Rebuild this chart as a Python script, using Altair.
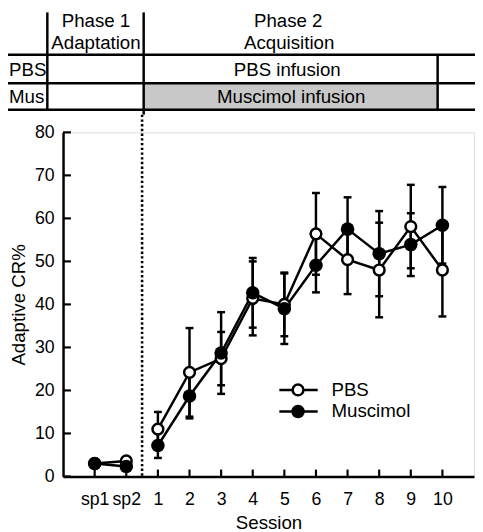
import json
import altair as alt
import pandas as pd

# ---------------- data ----------------
sessions = ["sp1", "sp2", "1", "2", "3", "4", "5", "6", "7", "8", "9", "10"]
session_index = [-1, 0, 1, 2, 3, 4, 5, 6, 7, 8, 9, 10]
phase = ["Phase 1", "Phase 1"] + ["Phase 2"] * 10
series = ["PBS", "Muscimol"]
pbs_mean = [3.0, 3.6, 11.0, 24.2, 27.4, 41.4, 40.0, 56.4, 50.4, 48.0, 58.1, 48.0]
pbs_sem = [0.0, 0.0, 4.0, 10.3, 6.2, 8.6, 7.4, 9.5, 8.0, 11.0, 9.7, 10.8]
mus_mean = [3.0, 2.3, 7.2, 18.7, 28.7, 42.7, 39.0, 49.1, 57.5, 51.8, 53.9, 58.4]
mus_sem = [0.0, 0.0, 2.9, 5.2, 9.5, 8.1, 8.2, 6.3, 7.4, 9.9, 7.3, 8.9]
y_ticks = [0, 10, 20, 30, 40, 50, 60, 70, 80]
phase_titles = [["Phase 1", "Adaptation"], ["Phase 2", "Acquisition"]]
row_labels = ["PBS", "Mus"]
row_contents = ["PBS infusion", "Muscimol infusion"]

FONT = "Liberation Sans"
LW = 2.5
FS = 19


def frame(means, sems, name):
    return pd.DataFrame({
        "idx": session_index, "label": sessions, "phase": phase,
        "mean": means, "lo": [m - s for m, s in zip(means, sems)],
        "hi": [m + s for m, s in zip(means, sems)], "sem": sems,
        "group": name,
    })


pbs = frame(pbs_mean, pbs_sem, series[0])
mus = frame(mus_mean, mus_sem, series[1])
pbs_err = pbs[pbs["sem"] > 0]
mus_err = mus[mus["sem"] > 0]

label_expr = json.dumps(sessions) + "[datum.value + 1]"
XS = alt.Scale(domain=[-2, 11], nice=False, zero=False)
YS = alt.Scale(domain=[0, 80], nice=False)
X_AX = alt.Axis(values=session_index, labelExpr=label_expr, ticks=False, grid=False,
                domainColor="black", domainWidth=LW, labelFontSize=18, labelColor="black",
                labelPadding=15, title="Session", titleFontSize=FS, titleFontWeight="normal",
                titleColor="black", titlePadding=5, labelFont=FONT, titleFont=FONT)
Y_AX = alt.Axis(values=y_ticks, ticks=False, grid=False, domainColor="black", domainWidth=LW,
                labelFontSize=18, labelColor="black", labelPadding=9, title="Adaptive CR%",
                titleFontSize=FS, titleFontWeight="normal", titleColor="black", titlePadding=6,
                labelFont=FONT, titleFont=FONT)

X = alt.X("idx:Q", scale=XS, axis=X_AX)
one = pd.DataFrame({"k": [0]})

layers = []

# ---------- header table ----------
layers.append(alt.Chart(one).mark_rect(fill="#c8c8c8").encode(
    x=alt.value(82), x2=alt.value(381), y=alt.value(-50), y2=alt.value(-23)))
for yy in [-79, -50, -23]:
    layers.append(alt.Chart(one).mark_rule(color="black", strokeWidth=LW).encode(
        x=alt.value(-56), x2=alt.value(419), y=alt.value(yy)))
for xx, y1, y2 in [(-16, -122, -23), (82, -122, -18), (381, -79, -23)]:
    layers.append(alt.Chart(one).mark_rule(color="black", strokeWidth=LW).encode(
        x=alt.value(xx), y=alt.value(y1), y2=alt.value(y2)))


def txt(s, x, y, align="center"):
    return alt.Chart(pd.DataFrame({"t": [s]})).mark_text(
        font=FONT, fontSize=FS, color="black", align=align, baseline="alphabetic").encode(
        text="t:N", x=alt.value(x), y=alt.value(y))


layers += [
    txt(phase_titles[0][0], 33.5, -107), txt(phase_titles[0][1], 33.5, -85),
    txt(phase_titles[1][0], 229, -107), txt(phase_titles[1][1], 230, -85),
    txt(row_labels[0], -55, -57, "left"), txt(row_labels[1], -55, -30, "left"),
    txt(row_contents[0], 228, -57), txt(row_contents[1], 232, -30),
]

# dotted phase divider
layers.append(alt.Chart(one).mark_rule(color="black", strokeWidth=2.6, strokeDash=[2.4, 2.4]).encode(
    x=alt.datum(0.5, type="quantitative", scale=XS, axis=X_AX), y=alt.value(-18), y2=alt.value(350)))

# inward ticks
layers.append(alt.Chart(pd.DataFrame({"v": y_ticks})).mark_rule(color="black", strokeWidth=2.2).encode(
    y=alt.Y("v:Q", scale=YS, axis=Y_AX), x=alt.value(0), x2=alt.value(8)))
layers.append(alt.Chart(pd.DataFrame({"idx": session_index})).mark_rule(color="black", strokeWidth=2.2).encode(
    x=X, y=alt.value(350), y2=alt.value(343)))

# ---------- data marks ----------
for err in [pbs_err, mus_err]:
    layers.append(alt.Chart(err).mark_rule(color="black", strokeWidth=LW).encode(
        x=X, y=alt.Y("lo:Q", scale=YS, axis=Y_AX), y2="hi:Q"))
    for f in ["lo", "hi"]:
        layers.append(alt.Chart(err).mark_tick(color="black", orient="horizontal", size=8,
                                               thickness=2.5, opacity=1).encode(
            x=X, y=alt.Y(f + ":Q", scale=YS, axis=Y_AX)))

for d in [pbs, mus]:
    layers.append(alt.Chart(d).mark_line(color="black", strokeWidth=LW).encode(
        x=X, y=alt.Y("mean:Q", scale=YS, axis=Y_AX), detail="phase:N"))

layers.append(alt.Chart(pbs).mark_point(shape="circle", filled=True, fill="white", stroke="black",
                                        strokeWidth=LW, size=120, opacity=1).encode(
    x=X, y=alt.Y("mean:Q", scale=YS, axis=Y_AX)))
layers.append(alt.Chart(mus).mark_circle(color="black", size=190, opacity=1).encode(
    x=X, y=alt.Y("mean:Q", scale=YS, axis=Y_AX)))

# ---------- legend ----------
for i, name in enumerate(series):
    ly = 262 + 22 * i
    layers.append(alt.Chart(one).mark_rule(color="black", strokeWidth=LW).encode(
        x=alt.value(220), x2=alt.value(259), y=alt.value(ly)))
    if i == 0:
        layers.append(alt.Chart(one).mark_point(shape="circle", filled=True, fill="white", stroke="black",
                                                strokeWidth=LW, size=120, opacity=1).encode(
            x=alt.value(239), y=alt.value(ly)))
    else:
        layers.append(alt.Chart(one).mark_circle(color="black", size=190, opacity=1).encode(
            x=alt.value(239), y=alt.value(ly)))
    layers.append(alt.Chart(pd.DataFrame({"t": [name]})).mark_text(
        font=FONT, fontSize=FS, color="black", align="left", baseline="middle").encode(
        text="t:N", x=alt.value(273), y=alt.value(ly)))

chart = alt.layer(*layers).properties(
    width=418, height=350,
    padding={"left": 56, "top": 122, "right": 1, "bottom": 52},
    autosize=alt.AutoSizeParams(type="none"),
).configure_view(stroke=None).configure(font=FONT, background="white")

chart.save("out.html", embed_options={"renderer": "svg", "actions": False})
